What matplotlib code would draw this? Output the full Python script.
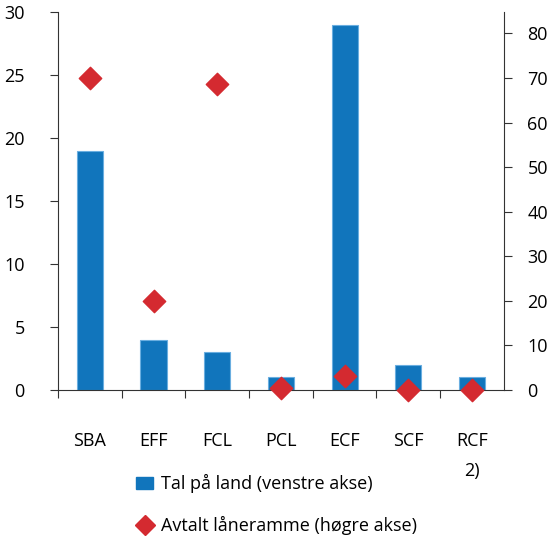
import matplotlib.pyplot as plt
import numpy as np
from matplotlib.lines import Line2D
from matplotlib.patches import Patch

plt.rcParams['font.family'] = ['Open Sans', 'DejaVu Sans']

categories = ['SBA', 'EFF', 'FCL', 'PCL', 'ECF', 'SCF', 'RCF\n2)']
countries = [19, 4, 3, 1, 29, 2, 1]
loan_frame = [70, 20, 68.7, 0.4, 3.2, 0.1, 0.1]

blue = '#1175bc'
red = '#d42a30'
axis_col = '#333333'

fig = plt.figure(figsize=(5.5, 5.42), dpi=100)
ax = fig.add_axes([0.1055, 0.2804, 0.8105, 0.6976])
x = np.arange(len(categories))

ax.bar(x, countries, width=0.41, color=blue, edgecolor='#6aaee0', linewidth=0.8, zorder=2)
ax.set_xlim(-0.5, len(categories) - 0.5)
ax.set_ylim(0, 30)
ax.set_yticks(range(0, 31, 5))

ax2 = ax.twinx()
ax2.scatter(x, loan_frame, marker='D', s=130, color=red, zorder=3, clip_on=False)
ax2.set_ylim(0, 84.8)
ax2.set_yticks(range(0, 81, 10))

for a in (ax, ax2):
    a.spines['top'].set_visible(False)
    a.tick_params(labelsize=13, length=6, color=axis_col)
ax.spines['right'].set_visible(False)
ax2.spines['left'].set_visible(False)
ax2.spines['bottom'].set_visible(False)
ax2.spines['right'].set_color(axis_col)
ax.spines['left'].set_color(axis_col)
ax.spines['bottom'].set_color(axis_col)
ax.tick_params(axis='y', pad=18)
ax2.tick_params(axis='y', pad=11)

# ticks at category boundaries, labels centred under the bars
ax.set_xticks(x - 0.5)
ax.set_xticklabels([''] * len(x))
ax.set_xticks(x, minor=True)
ax.set_xticklabels(categories, minor=True, linespacing=1.9)
ax.tick_params(axis='x', which='minor', length=0, pad=30, labelsize=13)
ax.tick_params(axis='x', which='major', length=6)

handles = [
    Patch(facecolor=blue, edgecolor=blue),
    Line2D([], [], marker='D', color=red, linestyle='none', markersize=10),
]
labels = ['Tal på land (venstre akse)', 'Avtalt låneramme (høgre akse)']
fig.legend(handles, labels, loc='upper left', bbox_to_anchor=(0.235, 0.138),
           frameon=False, fontsize=13, labelspacing=1.25, handlelength=0.9,
           handletextpad=0.45, borderaxespad=0)

fig.savefig('out.png', dpi=100)
